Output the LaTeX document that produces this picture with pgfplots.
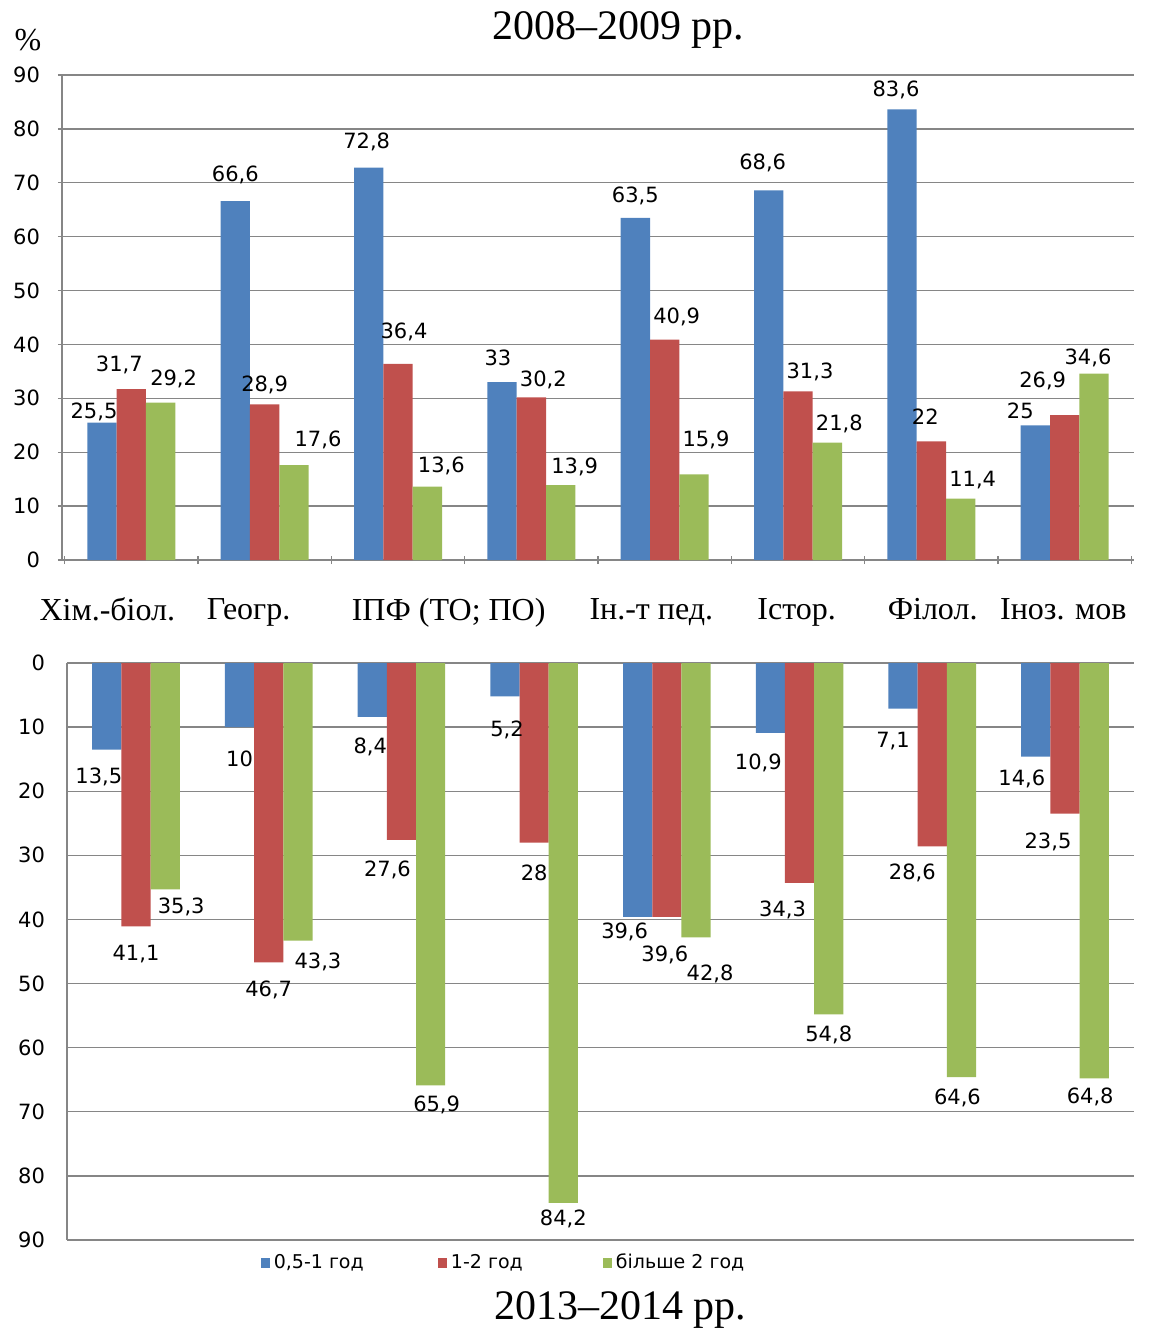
\documentclass[border=0pt]{standalone}
\usepackage{fontspec}
\setmainfont{Liberation Serif}
\newfontfamily\dv{DejaVu Sans}
\usepackage{pgfplots}
\usepackage{pgfplotstable}
\pgfplotsset{compat=1.18}

\definecolor{cBlue}{RGB}{79,129,189}
\definecolor{cRed}{RGB}{192,80,77}
\definecolor{cGreen}{RGB}{155,187,89}
\definecolor{cGrid}{RGB}{134,134,134}

% group, value and label shift (pt) for each series
\pgfplotstableread{
x  b    bdx  bdy   r    rdx  rdy   g    gdx  gdy
0  25.5 -4   5     31.7 -6   12    29.2 6.5  11.5
1  66.6 0    13    28.9 0    9.5   17.6 12   12.5
2  72.8 -1   12.5  36.4 3    16    13.6 7    10
3  33   -2   12.5  30.2 6    8.5   13.9 7    9
4  63.5 0    10.5  40.9 6    11    15.9 6    17
5  68.6 -3   13.5  31.3 6    9.5   21.8 6    9
6  83.6 -3   9.5   22   -3   13    11.4 6    9
7  25   -7.5 7.5   26.9 -11  17    34.6 -3   7.5
}\first
\pgfplotstableread{
x  b    bdx  bdy   r    rdx  rdy   g    gdx  gdy
0  13.5 -4   14    41.1 0    14    35.3 8    9
1  10   0    15.5  46.7 0    14    43.3 10   11
2  8.4  -1   15    27.6 -7   15    65.9 3    10
3  5.2  1    17    28   0    15    84.2 0    8.5
4  39.6 -6.5 7.5   39.6 -1   19    42.8 7    18.5
5  10.9 -6   15    34.3 -8.5 13.5  54.8 0    10.5
6  7.1  -5   16.5  28.6 -10  13.5  64.6 -2   10.5
7  14.6 -7   11.5  23.5 -8.5 14.5  64.8 -2   9.5
}\second

\pgfplotsset{
  duo/.style={
    scale only axis,
    ybar=0pt, bar width=0.22,
    xmin=-0.52, xmax=7.52,
    ymajorgrids, grid style={cGrid, line width=0.7pt},
    tick style={cGrid, line width=0.7pt},
    tick align=outside, major tick length=4pt,
    /pgf/number format/.cd, use comma, 1000 sep={}, assume math mode=true, /pgfplots/.cd,
    yticklabel style={font=\dv\fontsize{10.5}{12}\selectfont, xshift=-5.5pt},
    nodes near coords,
    every node near coord/.append style={font=\dv\fontsize{10.5}{12}\selectfont, inner sep=0pt, black},
  },
  plain lines/.style={
    axis line style={-, cGrid, line width=0.7pt},
    x axis line style={-}, y axis line style={-},
  },
}

\begin{document}
\begin{tikzpicture}
\begin{axis}[duo,
  at={(0,0)}, anchor=south west, width=536pt, height=242.5pt,
  ymin=0, ymax=90, ytick={0,10,...,90},
  axis x line=bottom, axis y line=left, plain lines,
  xtick={-0.5,0.5,...,7.5}, xticklabels={},
  extra x ticks={-0.18,0.88,2.38,3.90,4.99,6.01,6.99},
  extra x tick labels={Хім.-біол., Геогр., ІПФ (ТО; ПО), Ін.-т пед., Істор., Філол., Іноз. мов},
  extra x tick style={major tick length=0pt, xmajorgrids=false,
    tick label style={font=\fontsize{16}{19}\selectfont, anchor=north, yshift=-15.5pt}},
  every node near coord/.append style={xshift=\dx pt, yshift=\dy pt-4.5pt},
]
\addplot[fill=cBlue, draw=none,
  visualization depends on={\thisrow{bdx}\as\dx},
  visualization depends on={\thisrow{bdy}\as\dy}]
  table[x=x, y=b]{\first};
\addplot[fill=cRed, draw=none,
  visualization depends on={\thisrow{rdx}\as\dx},
  visualization depends on={\thisrow{rdy}\as\dy}]
  table[x=x, y=r]{\first};
\addplot[fill=cGreen, draw=none,
  visualization depends on={\thisrow{gdx}\as\dx},
  visualization depends on={\thisrow{gdy}\as\dy}]
  table[x=x, y=g]{\first};
\end{axis}

\begin{axis}[duo,
  at={(2.5pt,-51.5pt)}, anchor=north west, width=533.5pt, height=288.5pt,
  ymin=-90, ymax=0, ytick={-90,-80,...,0},
  yticklabels={90,80,70,60,50,40,30,20,10,0},
  axis x line=none, axis y line=left, plain lines,
  tick style={draw=none},
  every node near coord/.append style={xshift=\dx pt, yshift=-\dy pt-4.5pt},
  legend style={at={(0.41,0)}, anchor=center, yshift=-11.5pt, draw=none,
    font=\dv\fontsize{9.5}{11}\selectfont,
    legend columns=3,
    /tikz/column 2/.style={column sep=35pt},
    /tikz/column 4/.style={column sep=38pt}},
  legend image code/.code={\fill[#1] (0pt,-2.3pt) rectangle (4.6pt,2.3pt);},
]
\addplot[fill=cBlue, draw=none, point meta=\thisrow{b},
  visualization depends on={\thisrow{bdx}\as\dx},
  visualization depends on={\thisrow{bdy}\as\dy}]
  table[x=x, y expr=-\thisrow{b}]{\second};
\addlegendentry{0,5-1 год}
\addplot[fill=cRed, draw=none, point meta=\thisrow{r},
  visualization depends on={\thisrow{rdx}\as\dx},
  visualization depends on={\thisrow{rdy}\as\dy}]
  table[x=x, y expr=-\thisrow{r}]{\second};
\addlegendentry{1-2 год}
\addplot[fill=cGreen, draw=none, point meta=\thisrow{g},
  visualization depends on={\thisrow{gdx}\as\dx},
  visualization depends on={\thisrow{gdy}\as\dy}]
  table[x=x, y expr=-\thisrow{g}]{\second};
\addlegendentry{більше 2 год}
\end{axis}

\node[font=\fontsize{16}{19}\selectfont] at (-17pt,260pt) {\%};
\node[font=\fontsize{21}{24}\selectfont] at (278pt,265pt) {2008–2009 рр.};
\node[font=\fontsize{21}{24}\selectfont] at (279pt,-375pt) {2013–2014 рр.};
\pgfresetboundingbox
\useasboundingbox (-31pt,-385pt) rectangle (543.5pt,280pt);
\end{tikzpicture}
\end{document}
